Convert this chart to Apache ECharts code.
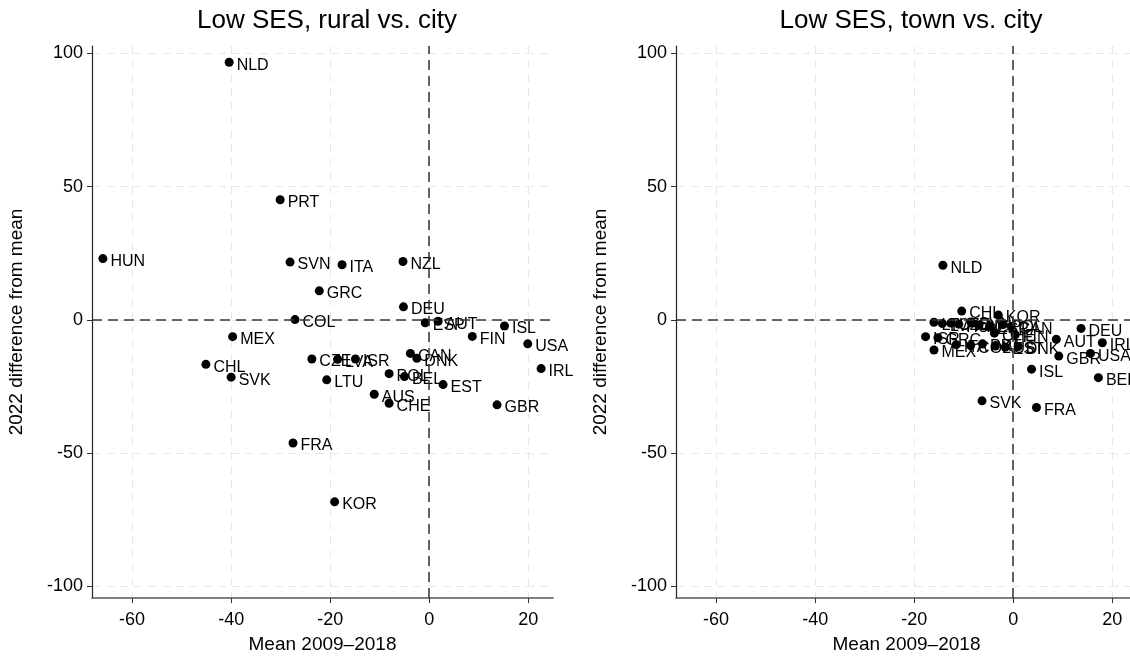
<!DOCTYPE html>
<html>
<head>
<meta charset="utf-8">
<script src="https://cdn.jsdelivr.net/npm/echarts@6/dist/echarts.min.js"></script>
<style>
  html, body { margin: 0; padding: 0; background: #ffffff; }
  #chart { width: 1130px; height: 657px; }
</style>
</head>
<body>
<div id="chart"></div>
<script>
// Low-SES difference from 2009–2018 mean, by country
const panelTitles = ['Low SES, rural vs. city', 'Low SES, town vs. city'];
const xTicks = [-60, -40, -20, 0, 20];
const yTicks = [-100, -50, 0, 50, 100];

// Rural vs. city: country, mean 2009–2018, 2022 difference
const ruralCountries = ['NLD','PRT','HUN','SVN','ITA','NZL','GRC','DEU','COL','ESP','AUT','ISL','FIN','USA','IRL','CAN','DNK','CZE','LVA','ISR','POL','BEL','LTU','EST','AUS','CHE','GBR','MEX','CHL','SVK','FRA','KOR'];
const ruralMean = [-40.4,-30.1,-65.9,-28.1,-17.6,-5.3,-22.2,-5.2,-27.1,-0.8,1.8,15.2,8.7,19.9,22.6,-3.8,-2.5,-23.7,-18.5,-14.9,-8.1,-5.0,-20.7,2.8,-11.1,-8.1,13.7,-39.7,-45.1,-40.0,-27.5,-19.1];
const ruralDiff = [96.7,45.1,23.0,21.7,20.7,21.9,10.9,4.9,0.1,-1.1,-0.5,-2.3,-6.2,-9.0,-18.3,-12.6,-14.4,-14.7,-14.8,-14.7,-20.2,-21.3,-22.5,-24.3,-27.9,-31.3,-31.9,-6.3,-16.7,-21.5,-46.2,-68.3];

// Town vs. city
const townCountries = ['NLD','CHL','KOR','CAN','DEU','AUT','IRL','USA','GBR','ISL','BEL','SVK','FRA','MEX','ISR','GRC','FIN','DNK','EST','LTU','LVA','CZE','HUN','SVN','NZL','ESP','POL','ITA','COL','PRT','CHE','AUS'];
const townMean = [-14.2,-10.4,-3.0,-0.4,13.7,8.7,18.0,15.6,9.2,3.7,17.2,-6.3,4.7,-16.0,-17.7,-15.2,0.4,1.0,-1.6,-16.0,-14.3,-12.6,-11.0,-8.5,-6.9,-4.8,-2.0,-11.5,-8.6,-6.2,-3.8,-3.6];
const townDiff = [20.5,3.3,1.8,-2.5,-3.2,-7.3,-8.6,-12.6,-13.6,-18.5,-21.7,-30.4,-32.9,-11.3,-6.3,-6.7,-5.6,-10.0,-10.2,-0.9,-1.4,-1.2,-1.6,-0.8,-1.9,-2.6,-1.7,-9.3,-9.6,-9.0,-5.0,-9.8];

const FONT = 'Liberation Sans, Arial, Helvetica, sans-serif';

function points(names, xs, ys) {
  return names.map((n, i) => ({ name: n, value: [xs[i], ys[i]] }));
}

function xAxisFor(gridIndex) {
  return {
    gridIndex, type: 'value', min: -68.1, max: 25,
    name: 'Mean 2009\u20132018', nameLocation: 'middle', nameGap: 37,
    nameTextStyle: { fontFamily: FONT, fontSize: 19, color: '#000' },
    axisLine: { show: true, onZero: false, lineStyle: { color: '#555', width: 1.6 } },
    axisTick: { show: true, length: 5, lineStyle: { color: '#333', width: 1 },
      customValues: xTicks },
    axisLabel: { fontFamily: FONT, fontSize: 18, color: '#000', margin: 13,
      customValues: xTicks },
    splitLine: { show: true, lineStyle: { color: '#e8e8e8', width: 1, type: [8, 6] } }
  };
}

function yAxisFor(gridIndex) {
  return {
    gridIndex, type: 'value', min: -104.4, max: 102.8,
    name: '2022 difference from mean', nameLocation: 'middle', nameGap: 66, nameRotate: 90,
    nameTextStyle: { fontFamily: FONT, fontSize: 19, color: '#000' },
    axisLine: { show: true, onZero: false, lineStyle: { color: '#222', width: 1.2 } },
    axisTick: { show: true, length: 5, lineStyle: { color: '#333', width: 1 },
      customValues: yTicks },
    axisLabel: { fontFamily: FONT, fontSize: 18, color: '#000', margin: 9,
      customValues: yTicks },
    splitLine: { show: true, lineStyle: { color: '#e8e8e8', width: 1, type: [8, 6] } }
  };
}

function scatterFor(idx, data) {
  return {
    type: 'scatter', xAxisIndex: idx, yAxisIndex: idx,
    data, symbol: 'circle', symbolSize: 9,
    itemStyle: { color: '#000', opacity: 1 },
    label: {
      show: true, position: 'right', distance: 3, offset: [0, 3],
      formatter: p => p.name,
      fontFamily: FONT, fontSize: 16, color: '#000'
    },
    emphasis: { disabled: true },
    markLine: {
      silent: true, symbol: 'none', animation: false,
      label: { show: false },
      lineStyle: { color: '#333', width: 1.5, type: [10, 6] },
      data: [{ xAxis: 0 }, { yAxis: 0 }]
    },
    z: 3
  };
}

const chart = echarts.init(document.getElementById('chart'), null, { renderer: 'canvas' });
chart.setOption({
  animation: false,
  backgroundColor: '#ffffff',
  title: [
    { text: panelTitles[0], left: 322, top: 3, textAlign: 'center',
      textStyle: { fontFamily: FONT, fontSize: 26, fontWeight: 'normal', color: '#000' } },
    { text: panelTitles[1], left: 906, top: 3, textAlign: 'center',
      textStyle: { fontFamily: FONT, fontSize: 26, fontWeight: 'normal', color: '#000' } }
  ],
  grid: [
    { left: 92, top: 46, width: 461, bottom: 59, containLabel: false, outerBoundsMode: 'none' },
    { left: 676, top: 46, width: 461, bottom: 59, containLabel: false, outerBoundsMode: 'none' }
  ],
  xAxis: [xAxisFor(0), xAxisFor(1)],
  yAxis: [yAxisFor(0), yAxisFor(1)],
  series: [
    scatterFor(0, points(ruralCountries, ruralMean, ruralDiff)),
    scatterFor(1, points(townCountries, townMean, townDiff))
  ]
});
</script>
</body>
</html>
